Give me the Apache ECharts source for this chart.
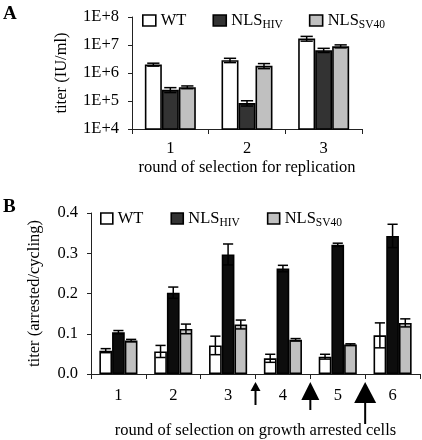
<!DOCTYPE html>
<html><head><meta charset="utf-8">
<script src="https://cdn.jsdelivr.net/npm/echarts@6/dist/echarts.min.js"></script>
<style>html,body{margin:0;padding:0;background:#fff}#c{width:422px;height:440px}</style>
</head><body><div id="c"></div><script>
// ---------- Panel A data ----------
const roundsA = ['1', '2', '3'];
const wtA = [2.0e6, 2.85e6, 1.7e7];
const wtAErr = [0.24e6, 0.5e6, 0.33e7];
const hivA = [2.5e5, 8.4e4, 6.5e6];
const hivAErr = [0.5e5, 1.8e4, 1.1e6];
const svA = [3.1e5, 1.8e6, 9.0e6];
const svAErr = [0.35e5, 0.37e6, 1.1e6];
const yTicksA = ['1E+4', '1E+5', '1E+6', '1E+7', '1E+8'];

// ---------- Panel B data ----------
const roundsB = ['1', '2', '3', '4', '5', '6'];
const wtB = [0.058, 0.056, 0.071, 0.039, 0.043, 0.096];
const wtBErr = [0.005, 0.015, 0.023, 0.010, 0.006, 0.031];
const hivB = [0.104, 0.202, 0.297, 0.262, 0.321, 0.343];
const hivBErr = [0.004, 0.014, 0.026, 0.008, 0.004, 0.029];
const svB = [0.083, 0.112, 0.123, 0.085, 0.073, 0.127];
const svBErr = [0.003, 0.012, 0.011, 0.003, 0.002, 0.010];
const yTicksB = ['0.0', '0.1', '0.2', '0.3', '0.4'];
const arrowsAfterRound = ['3', '4', '5'];

const seriesNames = ['WT', 'NLS_HIV', 'NLS_SV40'];

// ---------- styles ----------
const FONT = 'Liberation Serif';
const FS = 16.5;
const colorsA = ['#ffffff', '#333333', '#c0c0c0'];
const colorsB = ['#ffffff', '#0d0d0d', '#c0c0c0'];
const gapA = 0.335, gapB = 0.305;

const legendRich = {
  n: { fontFamily: FONT, fontSize: FS, color: '#000' },
  s: { fontFamily: FONT, fontSize: 11.5, color: '#000', padding: [9, 0, 0, 0] }
};
function legendFmt(name) {
  if (name === 'NLS_HIV') return '{n|NLS}{s|HIV}';
  if (name === 'NLS_SV40') return '{n|NLS}{s|SV40}';
  return '{n|' + name + '}';
}

function errSeries(gridIdx, k, vals, errs, gap) {
  return {
    type: 'custom', xAxisIndex: gridIdx, yAxisIndex: gridIdx, z: 5,
    silent: true,
    data: vals.map((v, i) => [i, v, errs[i]]),
    encode: { x: 0, y: 1 },
    renderItem(params, api) {
      const i = api.value(0), v = api.value(1), e = api.value(2);
      const hi = api.coord([i, v + e]);
      const lo = api.coord([i, v - e]);
      const band = api.size([1, 0])[0];
      const bw = band * (1 - gap) / 3;
      const x = hi[0] + (k - 1) * bw;
      const cap = bw * (gridIdx === 0 ? 0.36 : 0.4);
      const st = { stroke: '#000', lineWidth: 1.5 };
      return {
        type: 'group', children: [
          { type: 'line', shape: { x1: x, y1: hi[1], x2: x, y2: lo[1] }, style: st },
          { type: 'line', shape: { x1: x - cap, y1: hi[1], x2: x + cap, y2: hi[1] }, style: st },
          { type: 'line', shape: { x1: x - cap, y1: lo[1], x2: x + cap, y2: lo[1] }, style: st }
        ]
      };
    }
  };
}

function barSeries(gridIdx, k, vals, colors, gap) {
  return {
    type: 'bar', name: seriesNames[k], xAxisIndex: gridIdx, yAxisIndex: gridIdx,
    data: vals, barGap: '0%', barCategoryGap: (gap * 100) + '%',
    itemStyle: { color: colors[k], borderColor: '#000', borderWidth: 1.6 },
    clip: true, silent: true
  };
}

const axisLineStyle = { color: '#222', width: 1 };
const labelStyle = { fontFamily: FONT, fontSize: FS, color: '#000' };

const option = {
  animation: false,
  backgroundColor: '#fff',
  grid: [
    { left: 132, top: 17, width: 230, height: 112 },
    { left: 91, top: 213, width: 329, height: 164 }
  ],
  legend: [
    {
      data: seriesNames, left: 142, top: 12, padding: 0, icon: 'rect',
      itemWidth: 13, itemHeight: 11, itemGap: 26,
      formatter: legendFmt, textStyle: { rich: legendRich },
      itemStyle: { borderColor: '#000', borderWidth: 1.6 },
      selectedMode: false
    },
    {
      data: seriesNames.slice(), left: 100, top: 210, padding: 0, icon: 'rect',
      itemWidth: 12, itemHeight: 11, itemGap: 27,
      formatter: legendFmt, textStyle: { rich: legendRich },
      itemStyle: { borderColor: '#000', borderWidth: 1.6 },
      selectedMode: false
    }
  ],
  xAxis: [
    {
      type: 'category', gridIndex: 0, data: roundsA,
      axisLine: { lineStyle: axisLineStyle },
      axisTick: { show: true, length: 5, lineStyle: axisLineStyle },
      axisLabel: Object.assign({ margin: 11 }, labelStyle),
      name: 'round of selection for replication', nameLocation: 'middle', nameGap: 30,
      nameTextStyle: labelStyle
    },
    {
      type: 'category', gridIndex: 1, data: roundsB,
      axisLine: { lineStyle: axisLineStyle },
      axisTick: { show: true, length: 5, lineStyle: axisLineStyle },
      axisLabel: Object.assign({ margin: 13 }, labelStyle),
      name: 'round of selection on growth arrested cells', nameLocation: 'middle', nameGap: 48,
      nameTextStyle: labelStyle
    }
  ],
  yAxis: [
    {
      type: 'log', gridIndex: 0, logBase: 10, min: 1e4, max: 1e8, interval: 1,
      axisLine: { show: true, lineStyle: axisLineStyle },
      axisTick: { show: true, length: 4, lineStyle: axisLineStyle },
      splitLine: { show: false }, minorTick: { show: false },
      axisLabel: Object.assign({
        margin: 13,
        formatter: v => yTicksA[Math.round(Math.log10(v)) - 4]
      }, labelStyle),
      name: 'titer (IU/ml)', nameLocation: 'middle', nameGap: 62, nameRotate: 90,
      nameTextStyle: labelStyle
    },
    {
      type: 'value', gridIndex: 1, min: 0, max: 0.4, interval: 0.1,
      axisLine: { show: true, lineStyle: axisLineStyle },
      axisTick: { show: true, length: 4, lineStyle: axisLineStyle },
      splitLine: { show: false },
      axisLabel: Object.assign({
        margin: 13,
        formatter: v => yTicksB[Math.round(v * 10)]
      }, labelStyle),
      name: 'titer (arrested/cycling)', nameLocation: 'middle', nameGap: 48, nameRotate: 90,
      nameTextStyle: labelStyle
    }
  ],
  series: [
    barSeries(0, 0, wtA, colorsA, gapA),
    barSeries(0, 1, hivA, colorsA, gapA),
    barSeries(0, 2, svA, colorsA, gapA),
    errSeries(0, 0, wtA, wtAErr, gapA),
    errSeries(0, 1, hivA, hivAErr, gapA),
    errSeries(0, 2, svA, svAErr, gapA),
    barSeries(1, 0, wtB, colorsB, gapB),
    barSeries(1, 1, hivB, colorsB, gapB),
    barSeries(1, 2, svB, colorsB, gapB),
    errSeries(1, 0, wtB, wtBErr, gapB),
    errSeries(1, 1, hivB, hivBErr, gapB),
    errSeries(1, 2, svB, svBErr, gapB)
  ],
  graphic: [
    { type: 'text', left: 3, top: 5, style: { text: 'A', font: 'bold 19px "Liberation Serif"', fill: '#000' } },
    { type: 'text', left: 3, top: 198, style: { text: 'B', font: 'bold 19px "Liberation Serif"', fill: '#000' } }
  ]
};

const chart = echarts.init(document.getElementById('c'), null, { renderer: 'canvas' });
chart.setOption(option);

// arrows between rounds in panel B (annotations at category boundaries)
const arrowSizes = [
  { hw: 10, hh: 9, len: 23 },
  { hw: 18, hh: 18, len: 28 },
  { hw: 22, hh: 21, len: 42 }
];
const axisY = chart.convertToPixel({ yAxisIndex: 1 }, 0);
const arrowGraphics = arrowsAfterRound.map((r, j) => {
  const idx = roundsB.indexOf(r);
  const x = (chart.convertToPixel({ xAxisIndex: 1 }, roundsB[idx]) +
             chart.convertToPixel({ xAxisIndex: 1 }, roundsB[idx + 1])) / 2;
  const s = arrowSizes[j];
  const tip = axisY + 8;
  return {
    type: 'group', children: [
      { type: 'polygon', shape: { points: [[x, tip], [x - s.hw / 2, tip + s.hh], [x + s.hw / 2, tip + s.hh]] }, style: { fill: '#000' } },
      { type: 'rect', shape: { x: x - 1, y: tip + s.hh - 1, width: 2, height: s.len - s.hh + 1 }, style: { fill: '#000' } }
    ]
  };
});
chart.setOption({ graphic: option.graphic.concat(arrowGraphics) });
</script></body></html>
